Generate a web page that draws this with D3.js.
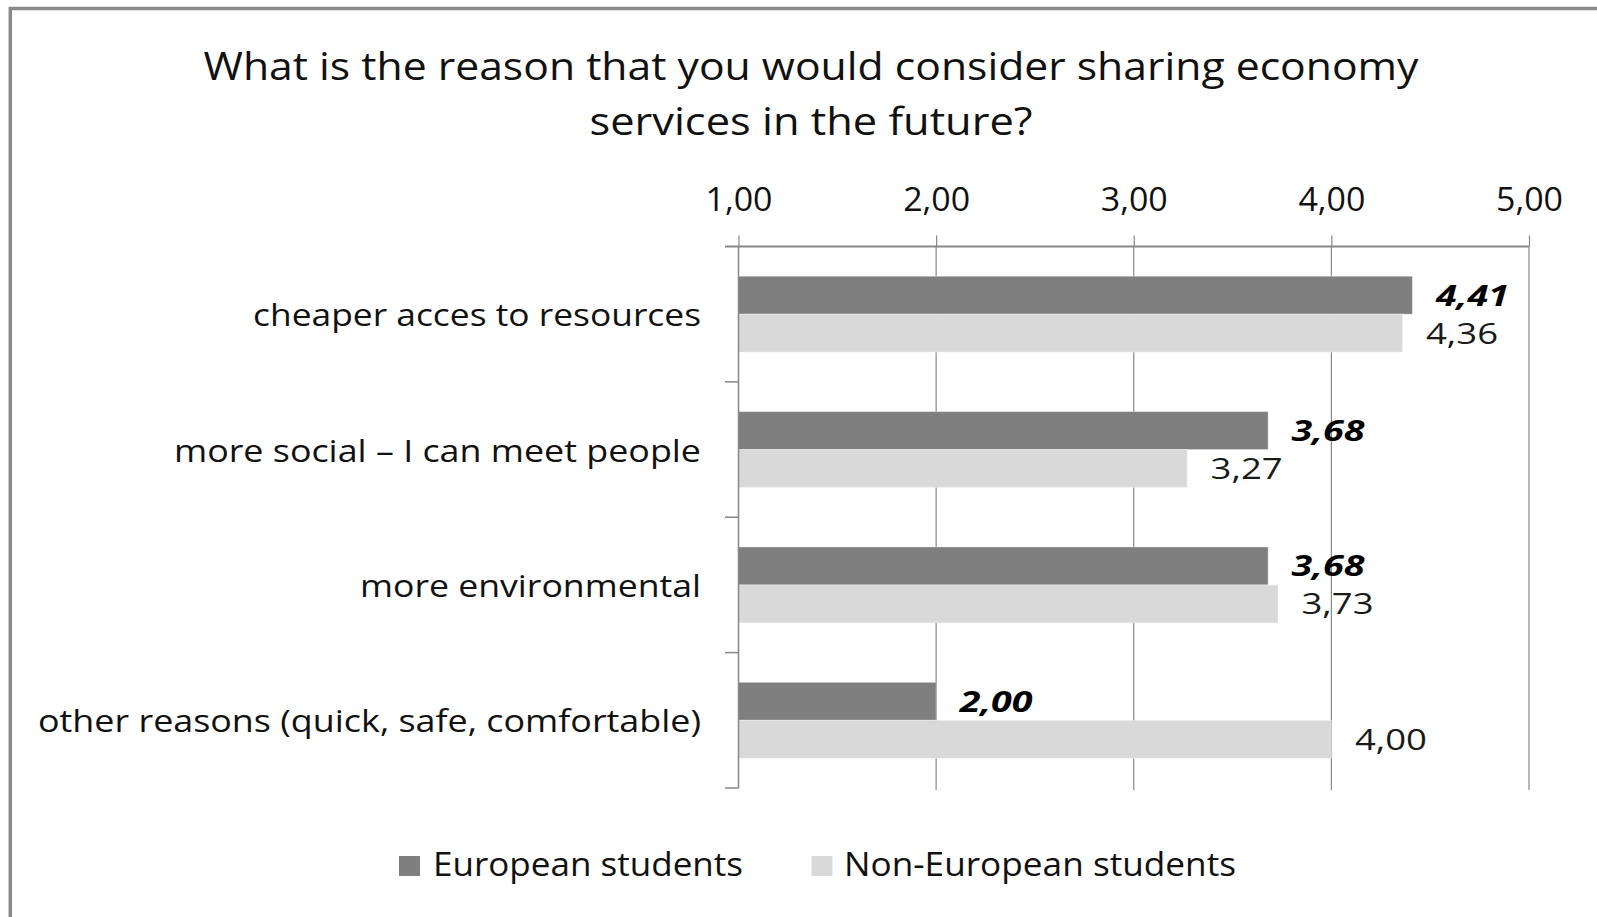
<!DOCTYPE html>
<html>
<head>
<meta charset="utf-8">
<script src="https://cdn.jsdelivr.net/npm/d3@7"></script>
<style>
  html, body { margin: 0; padding: 0; background: #fff; }
  svg { display: block; font-family: "Open Sans", "Noto Sans", sans-serif; }
</style>
</head>
<body>
<svg id="chart" width="1597" height="917"></svg>
<script>
// Survey data: mean agreement scores (1–5 scale)
const categories = [
  "cheaper acces to resources",
  "more social \u2013 I can meet people",
  "more environmental",
  "other reasons (quick, safe, comfortable)"
];
const seriesNames = ["European students", "Non-European students"];
const europeanValues = [4.41, 3.68, 3.68, 2.00];
const nonEuropeanValues = [4.36, 3.27, 3.73, 4.00];
const tickValues = [1, 2, 3, 4, 5];
const titleLines = [
  "What is the reason that you would consider sharing economy",
  "services in the future?"
];

// Presentation settings
const colors = ["#7f7f7f", "#d9d9d9"];
const gridColor = "#878787";
const font = { title: 38, tick: 32, category: 31, value: 29, legend: 32 };
// rendered text widths (Calibri-like wide setting)
const widths = {
  title: [1215, 443],
  category: [448, 527, 341, 663],
  tick: 67,
  valueBold: 73,
  value: 72,
  legend: [310, 392]
};

const svg = d3.select("#chart");
const fmt = v => v.toFixed(2).replace(".", ",");

// outer chart frame
svg.append("rect")
  .attr("x", 10.3).attr("y", 8.5)
  .attr("width", 1700).attr("height", 1000)
  .attr("fill", "none")
  .attr("stroke", "#8a8a8a")
  .attr("stroke-width", 3.5);

// title
titleLines.forEach((line, i) => {
  const w = widths.title[i];
  svg.append("text")
    .attr("x", 811 - w / 2)
    .attr("y", [80, 135][i])
    .attr("font-size", font.title)
    .attr("fill", "#111")
    .attr("textLength", w)
    .attr("lengthAdjust", "spacingAndGlyphs")
    .text(line);
});

// scales
const plot = { left: 738.5, right: 1529, top: 246.5, bottom: 788 };
const x = d3.scaleLinear().domain([1, 5]).range([plot.left, plot.right]);
const yBand = d3.scaleBand().domain(categories)
  .range([plot.top, plot.bottom]).paddingInner(0.439).paddingOuter(0.2195);
const yOuter = d3.scaleBand().domain(categories).range([plot.top, plot.bottom]);
const ySeries = d3.scaleBand().domain(seriesNames).range([0, yBand.bandwidth()]);

// vertical gridlines
svg.append("g").selectAll("line")
  .data(tickValues.slice(1))
  .join("line")
  .attr("x1", d => x(d)).attr("x2", d => x(d))
  .attr("y1", plot.top).attr("y2", plot.bottom + 2)
  .attr("stroke", gridColor).attr("stroke-width", 1.2);

// bars
const rows = categories.map((c, i) => ({
  category: c,
  values: [europeanValues[i], nonEuropeanValues[i]]
}));

const groups = svg.append("g").selectAll("g")
  .data(rows)
  .join("g")
  .attr("transform", d => `translate(0,${yBand(d.category)})`);

groups.selectAll("rect")
  .data(d => d.values.map((v, k) => ({ v, k })))
  .join("rect")
  .attr("x", x(1))
  .attr("y", d => ySeries(seriesNames[d.k]))
  .attr("width", d => x(d.v) - x(1))
  .attr("height", ySeries.bandwidth())
  .attr("fill", d => colors[d.k])
  .attr("stroke", "#ffffff")
  .attr("stroke-opacity", 0.35)
  .attr("stroke-width", 1);

// value labels
groups.selectAll("text")
  .data(d => d.values.map((v, k) => ({ v, k })))
  .join("text")
  .attr("x", d => x(d.v) + 23.5)
  .attr("y", d => ySeries(seriesNames[d.k]) + ySeries.bandwidth() / 2 + 10.5)
  .attr("font-size", font.value)
  .attr("font-weight", d => d.k === 0 ? 700 : 400)
  .attr("font-style", d => d.k === 0 ? "italic" : "normal")
  .attr("fill", d => d.k === 0 ? "#000" : "#1a1a1a")
  .attr("textLength", d => d.k === 0 ? widths.valueBold : widths.value)
  .attr("lengthAdjust", "spacingAndGlyphs")
  .text(d => fmt(d.v));

// top value axis
const xAxis = d3.axisTop(x)
  .tickValues(tickValues)
  .tickFormat(fmt)
  .tickSize(11)
  .tickSizeOuter(0)
  .tickPadding(25);

const gx = svg.append("g")
  .attr("transform", `translate(0,${plot.top})`)
  .call(xAxis);
gx.select(".domain").remove();
gx.selectAll(".tick line").attr("stroke", gridColor).attr("stroke-width", 1.2);
gx.selectAll(".tick text")
  .attr("font-size", font.tick)
  .attr("font-family", "'Open Sans', 'Noto Sans', sans-serif")
  .attr("fill", "#111")
  .attr("x", -widths.tick / 2)
  .attr("text-anchor", "start")
  .attr("textLength", widths.tick)
  .attr("lengthAdjust", "spacingAndGlyphs");

// axis lines
svg.append("line")
  .attr("x1", plot.left - 13.5).attr("x2", plot.right)
  .attr("y1", plot.top).attr("y2", plot.top)
  .attr("stroke", gridColor).attr("stroke-width", 2);
svg.append("line")
  .attr("x1", plot.left).attr("x2", plot.left)
  .attr("y1", plot.top).attr("y2", plot.bottom)
  .attr("stroke", gridColor).attr("stroke-width", 1.5);

// category axis ticks at band boundaries
const boundaries = categories.map(c => yOuter(c)).concat([plot.bottom]);
svg.append("g").selectAll("line")
  .data(boundaries.slice(1))
  .join("line")
  .attr("x1", plot.left - 13.5).attr("x2", plot.left)
  .attr("y1", d => d).attr("y2", d => d)
  .attr("stroke", gridColor).attr("stroke-width", 1.5);

// category labels
svg.append("g").selectAll("text")
  .data(categories)
  .join("text")
  .attr("x", (d, i) => 701 - widths.category[i])
  .attr("y", d => yOuter(d) + yOuter.bandwidth() / 2 + 12)
  .attr("font-size", font.category)
  .attr("fill", "#111")
  .attr("textLength", (d, i) => widths.category[i])
  .attr("lengthAdjust", "spacingAndGlyphs")
  .text(d => d);

// legend
const legendX = [399, 811.5];
const legend = svg.append("g").selectAll("g")
  .data(seriesNames)
  .join("g")
  .attr("transform", (d, i) => `translate(${legendX[i]},856)`);
legend.append("rect")
  .attr("width", 21).attr("height", 20)
  .attr("fill", (d, i) => colors[i]);
legend.append("text")
  .attr("x", (d, i) => [34, 32.5][i])
  .attr("y", 20)
  .attr("font-size", font.legend)
  .attr("fill", "#111")
  .attr("textLength", (d, i) => widths.legend[i])
  .attr("lengthAdjust", "spacingAndGlyphs")
  .text(d => d);
</script>
</body>
</html>
